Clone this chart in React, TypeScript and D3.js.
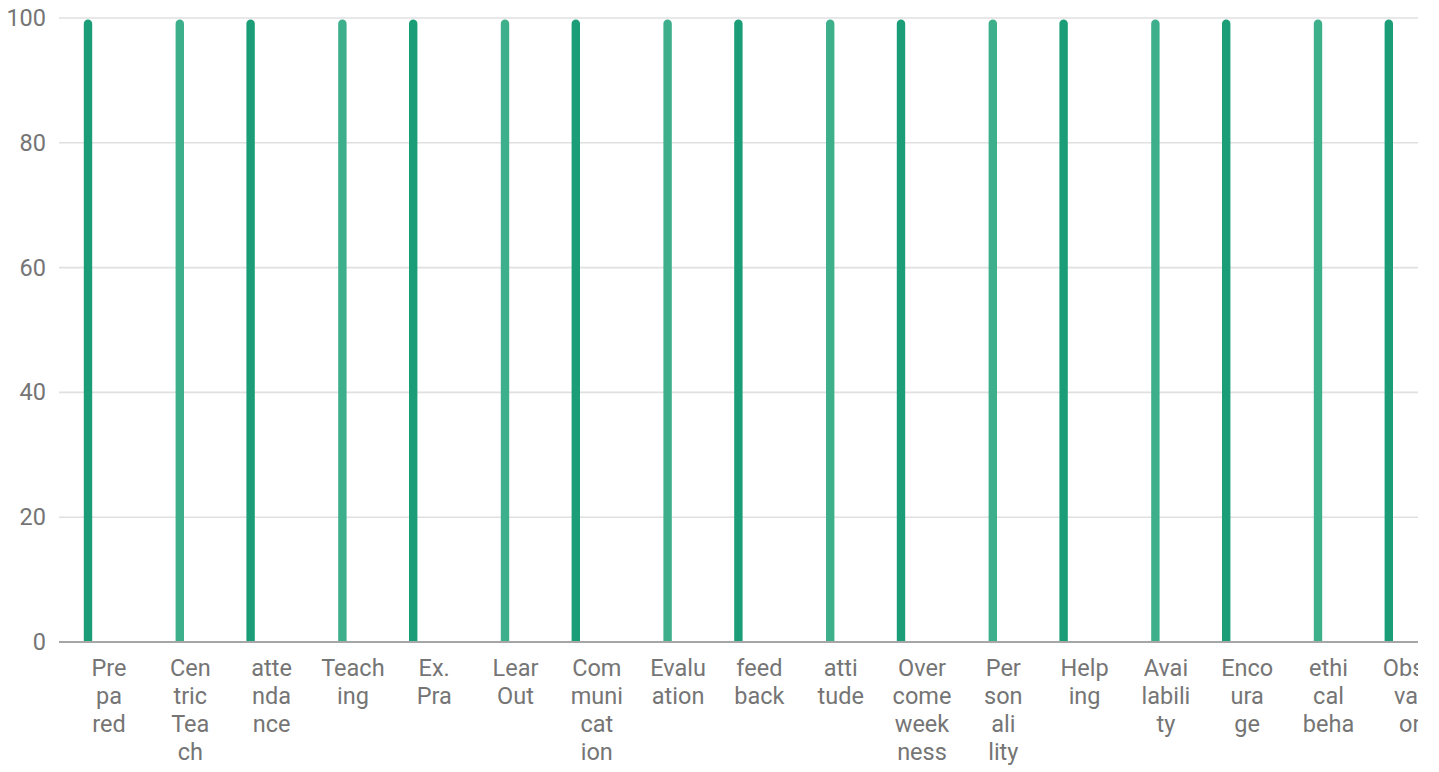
import React from "react";
import * as d3 from "d3";

const categories = [
  "Prepared", "CentricTeach", "attendance", "Teaching", "ExPra", "LearOut",
  "Communication", "Evaluation", "feedback", "attitude", "Overcomeweekness",
  "Personality", "Helping", "Availability", "Encourage", "ethicalbeha", "Obsevator",
];

const categoryLabelLines = [
  ["Pre", "pa", "red"],
  ["Cen", "tric", "Tea", "ch"],
  ["atte", "nda", "nce"],
  ["Teach", "ing"],
  ["Ex.", "Pra"],
  ["Lear", "Out"],
  ["Com", "muni", "cat", "ion"],
  ["Evalu", "ation"],
  ["feed", "back"],
  ["atti", "tude"],
  ["Over", "come", "week", "ness"],
  ["Per", "son", "ali", "lity"],
  ["Help", "ing"],
  ["Avai", "labili", "ty"],
  ["Enco", "ura", "ge"],
  ["ethi", "cal", "beha"],
  ["Obse", "vat", "or"],
];

const seriesA = [100, 0, 100, 0, 100, 0, 100, 0, 100, 0, 100, 0, 100, 0, 100, 0, 100];
const seriesB = [0, 100, 0, 100, 0, 100, 0, 100, 0, 100, 0, 100, 0, 100, 0, 100, 0];
const seriesKeys = ["A", "B"];
const seriesColors = ["#1b9e77", "#3daf8a"];
const yTicks = [0, 20, 40, 60, 80, 100];

const W = 1418;
const H = 772;
const plotLeft = 59;
const plotRight = 1418;
const plotTop = 18;
const plotBottom = 642;
const step = 81.3;
const bandStart = 68.35;

export default function App() {
  const x = d3
    .scaleBand<string>()
    .domain(categories)
    .range([bandStart, bandStart + step * categories.length])
    .padding(0);
  const half = x.bandwidth() / 2;
  const xSub = d3
    .scaleBand<string>()
    .domain(seriesKeys)
    .range([half - 26.25, half - 5.25]);
  const y = d3.scaleLinear().domain([0, 100]).range([plotBottom, plotTop]);

  const barW = 8.4;
  const r = barW / 2;
  const barPath = (cx: number, top: number, bottom: number) => {
    const x0 = cx - barW / 2;
    const x1 = cx + barW / 2;
    const t = top + 1.5;
    return `M${x0},${bottom} L${x0},${t + r} A${r},${r} 0 0 1 ${x1},${t + r} L${x1},${bottom} Z`;
  };

  const allSeries = [seriesA, seriesB];
  const font = "Roboto, 'Noto Sans', sans-serif";

  return (
    <div style={{ position: "absolute", left: 0, top: 0, width: W, height: H, overflow: "hidden", background: "#fff" }}>
      <svg width={W} height={H} style={{ display: "block" }}>
        <g>
          {yTicks.map((t) =>
            t === 0 ? null : (
              <line key={t} x1={plotLeft} x2={plotRight} y1={y(t)} y2={y(t)} stroke="#e0e0e0" strokeWidth={1.6} />
            )
          )}
        </g>
        <g>
          {yTicks.map((t) => (
            <text
              key={t}
              x={46}
              y={y(t)}
              textAnchor="end"
              dominantBaseline="central"
              fontFamily={font}
              fontSize={23.5}
              fill="#757575"
            >
              {t}
            </text>
          ))}
        </g>
        <g>
          {categories.map((c, i) =>
            allSeries.map((s, si) => {
              const v = s[i];
              if (!v) return null;
              const cx = (x(c) ?? 0) + (xSub(seriesKeys[si]) ?? 0) + xSub.bandwidth() / 2;
              return <path key={c + si} d={barPath(cx, y(v), y(0))} fill={seriesColors[si]} />;
            })
          )}
        </g>
        <line x1={plotLeft} x2={plotRight} y1={y(0)} y2={y(0)} stroke="#a6a6a6" strokeWidth={2} />
        <g>
          {categories.map((c, i) => (
            <text
              key={c}
              x={(x(c) ?? 0) + half}
              y={676}
              textAnchor="middle"
              fontFamily={font}
              fontSize={23.5}
              fill="#757575"
            >
              {categoryLabelLines[i].map((ln, li) => (
                <tspan key={li} x={(x(c) ?? 0) + half} dy={li === 0 ? 0 : 28}>
                  {ln}
                </tspan>
              ))}
            </text>
          ))}
        </g>
      </svg>
    </div>
  );
}
